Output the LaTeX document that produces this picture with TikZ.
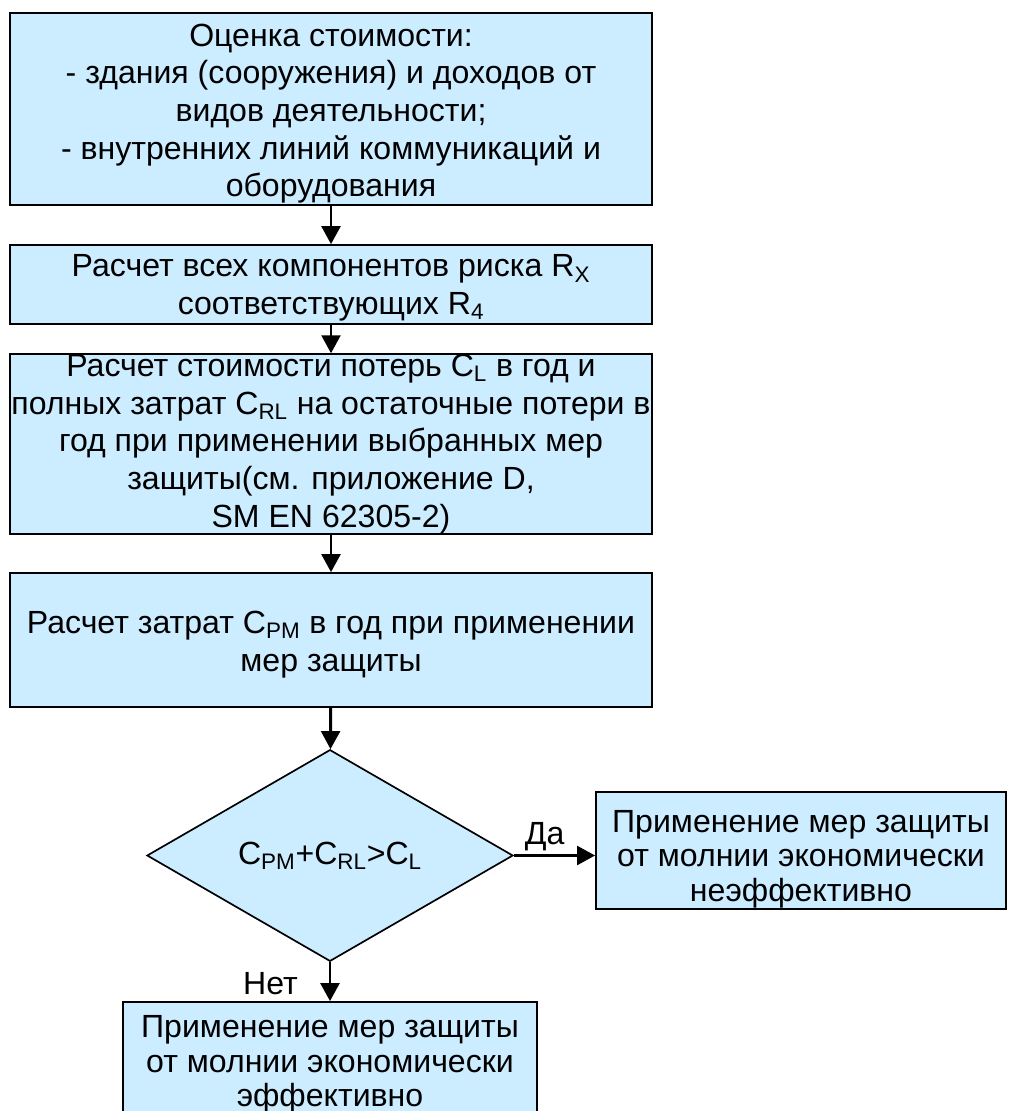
\documentclass[tikz,border=0pt]{standalone}
\usepackage{fontspec}
\setmainfont{Liberation Sans}
\usetikzlibrary{shapes.geometric,arrows.meta}
\definecolor{boxblue}{RGB}{204,236,255}
\begin{document}
\begin{tikzpicture}[x=0.025cm, y=-0.025cm,
    -{Triangle[length=0.45cm, width=0.47cm]}, line width=2.1pt,
    box/.style={rectangle, draw, fill=boxblue, line width=1.2pt, inner sep=0pt, align=center,
        font=\fontsize{22.8}{26.8}\selectfont},
    resbox/.style={box, font=\fontsize{22.8}{24.5}\selectfont},
    lbl/.style={font=\fontsize{22.8}{26.8}\selectfont, inner sep=2pt}]
    \useasboundingbox (0,0) rectangle (1008,1111);
    % Steps of the cost estimate
    \node[box, minimum width=16.05cm, minimum height=4.8cm] (cost) at (331,109) {\rule{0pt}{0.79cm}Оценка стоимости:\\- здания (сооружения) и доходов от\\видов деятельности;\\- внутренних линий коммуникаций и\\оборудования};
    \node[box, minimum width=16.05cm, minimum height=1.975cm] (risk) at (331,284.5) {\rule{0pt}{0.725cm}Расчет всех компонентов риска R\textsubscript{X}\\соответствующих R\textsubscript{4}};
    \node[box, minimum width=16.05cm, minimum height=4.3cm] (loss) at (331,444) {Расчет стоимости потерь C\textsubscript{L} в год и\\полных затрат C\textsubscript{RL} на остаточные потери в\\год при применении выбранных мер\\защиты(см. приложение D,\\SM EN 62305-2)};
    \node[box, minimum width=16.05cm, minimum height=3.35cm] (prot) at (331,640) {\rule{0pt}{0.775cm}Расчет затрат C\textsubscript{PM} в год при применении\\мер защиты};
    % Decision and outcomes
    \node[box, diamond, minimum width=9.15cm, minimum height=4.725cm] (check) at (330,855.5) {C\textsubscript{PM}+C\textsubscript{RL}>C\textsubscript{L}};
    \node[resbox, minimum width=10.25cm, minimum height=2.925cm] (noeff) at (801,850.5) {\rule{0pt}{0.975cm}Применение мер защиты\\от молнии экономически\\неэффективно};
    \node[resbox, minimum width=10.35cm, minimum height=3.125cm] (eff) at (330,1064.5) {Применение мер защиты\\от молнии экономически\\эффективно};

    \draw (cost) -- (risk); \draw (risk) -- (loss);
    \draw (loss) -- (prot); \draw (prot) -- (check);
    \draw (check.east) -- (check.east -| noeff.west) node[lbl, above, pos=0.38] {Да};
    \draw (check) -- (eff) node[lbl, left, pos=0.55, xshift=-0.7cm] {Нет};
\end{tikzpicture}
\end{document}
